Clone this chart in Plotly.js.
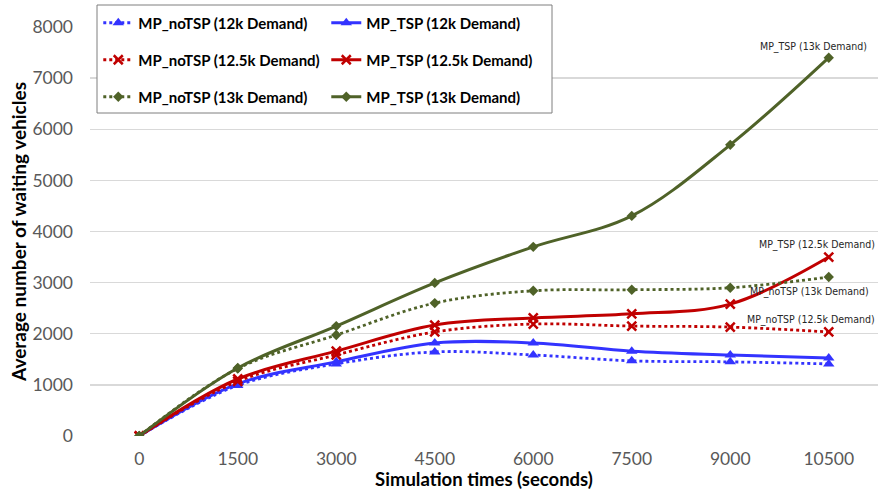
<!DOCTYPE html>
<html>
<head>
<meta charset="utf-8">
<script src="https://cdn.plot.ly/plotly-3.0.1.min.js"></script>
<style>html,body{margin:0;padding:0;background:#fff;}#chart{width:879px;height:491px;}</style>
</head>
<body>
<div id="chart"></div>
<script>
const times = ["0","1500","3000","4500","6000","7500","9000","10500"];

const noTSP12k  = [0, 990, 1410, 1645, 1585, 1470, 1450, 1410];
const TSP12k    = [0, 1020, 1450, 1820, 1820, 1660, 1585, 1525];
const noTSP125k = [0, 1070, 1585, 2035, 2190, 2150, 2130, 2035];
const TSP125k   = [0, 1115, 1660, 2170, 2310, 2390, 2580, 3500];
const noTSP13k  = [0, 1320, 1975, 2600, 2840, 2860, 2900, 3110];
const TSP13k    = [0, 1330, 2150, 2995, 3700, 4305, 5695, 7400];

const seriesNames = [
  "MP_noTSP (12k Demand)", "MP_TSP (12k Demand)",
  "MP_noTSP (12.5k Demand)", "MP_TSP (12.5k Demand)",
  "MP_noTSP (13k Demand)", "MP_TSP (13k Demand)"
];

const BLUE = "#3333ff", RED = "#c00000", GREEN = "#4f6228";

function tr(name, y, color, dash, symbol, size, legend) {
  return {
    x: times, y: y, name: name, type: "scatter", mode: "lines+markers",
    line: {color: color, width: dash === "solid" ? 3 : 2.8, dash: dash, shape: "spline", smoothing: 1},
    marker: {color: color, symbol: symbol, size: size, line: {color: color, width: symbol === "x-thin" ? 2.5 : 0}},
    legend: legend
  };
}

const traces = [
  tr(seriesNames[0], noTSP12k, BLUE, "dot", "triangle-up", 10, "legend"),
  tr(seriesNames[1], TSP12k, BLUE, "solid", "triangle-up", 10, "legend"),
  tr(seriesNames[2], noTSP125k, RED, "dot", "x-thin", 9, "legend2"),
  tr(seriesNames[3], TSP125k, RED, "solid", "x-thin", 9, "legend2"),
  tr(seriesNames[4], noTSP13k, GREEN, "dot", "diamond", 8, "legend3"),
  tr(seriesNames[5], TSP13k, GREEN, "solid", "diamond", 8, "legend3")
];

const legFont = {family: "Lato, 'Liberation Sans', sans-serif", size: 15, color: "#000", weight: "bold"};
function leg(y) {
  return {orientation: "h", x: 0.0105, xanchor: "left", y: y, yanchor: "middle",
    font: legFont, bgcolor: "rgba(0,0,0,0)", borderwidth: 0,
    entrywidth: 183, entrywidthmode: "pixels", traceorder: "normal"};
}

const lastIdx = times.length - 1;
const annFont = {family: "'Liberation Sans Narrow', 'DejaVu Sans Condensed', Roboto, sans-serif", size: 10.5, color: "#262626"};
const layout = {
  width: 879, height: 491,
  margin: {l: 90, r: 1, t: 27, b: 55},
  paper_bgcolor: "#fff", plot_bgcolor: "#fff",
  font: {family: "Lato, 'Liberation Sans', sans-serif"},
  xaxis: {
    type: "category", range: [-0.5, 7.5],
    showgrid: false, zeroline: false, showline: false, ticks: "",
    tickfont: {size: 17.5, color: "#595959"}, ticklabelstandoff: 10,
    title: {text: "Simulation times (seconds)", font: {size: 18.5, color: "#000", weight: "bold"}, standoff: 2}
  },
  yaxis: {
    range: [0, 8000], dtick: 1000, showgrid: true, gridcolor: "#d9d9d9", gridwidth: 1.3,
    zeroline: false, showline: false, ticks: "",
    tickfont: {size: 17.5, color: "#595959"}, ticklabelstandoff: 16,
    title: {text: "Average number of waiting vehicles", font: {size: 19, color: "#000", weight: "bold"}, standoff: 0}
  },
  legend: leg((436 - 23) / 409),
  legend2: leg((436 - 60) / 409),
  legend3: leg((436 - 97) / 409),
  shapes: [{type: "rect", xref: "paper", yref: "paper",
    x0: (97 - 90) / 788, x1: (552 - 90) / 788, y0: (436 - 113) / 409, y1: (436 - 5) / 409,
    line: {color: "#7f7f7f", width: 1}, fillcolor: "#fff", layer: "above"}],
  annotations: [
    {x: lastIdx, y: 7610, text: "MP_TSP (13k Demand)", showarrow: false, xanchor: "right", xshift: 40, font: annFont},
    {x: lastIdx, y: 3755, text: "MP_TSP (12.5k Demand)", showarrow: false, xanchor: "right", xshift: 48, font: annFont},
    {x: lastIdx, y: 2820, text: "MP_noTSP (13k Demand)", showarrow: false, xanchor: "right", xshift: 42, font: annFont},
    {x: lastIdx, y: 2270, text: "MP_noTSP (12.5k Demand)", showarrow: false, xanchor: "right", xshift: 48, font: annFont}
  ]
};

Plotly.newPlot("chart", traces, layout, {displayModeBar: false, staticPlot: true});
</script>
</body>
</html>
